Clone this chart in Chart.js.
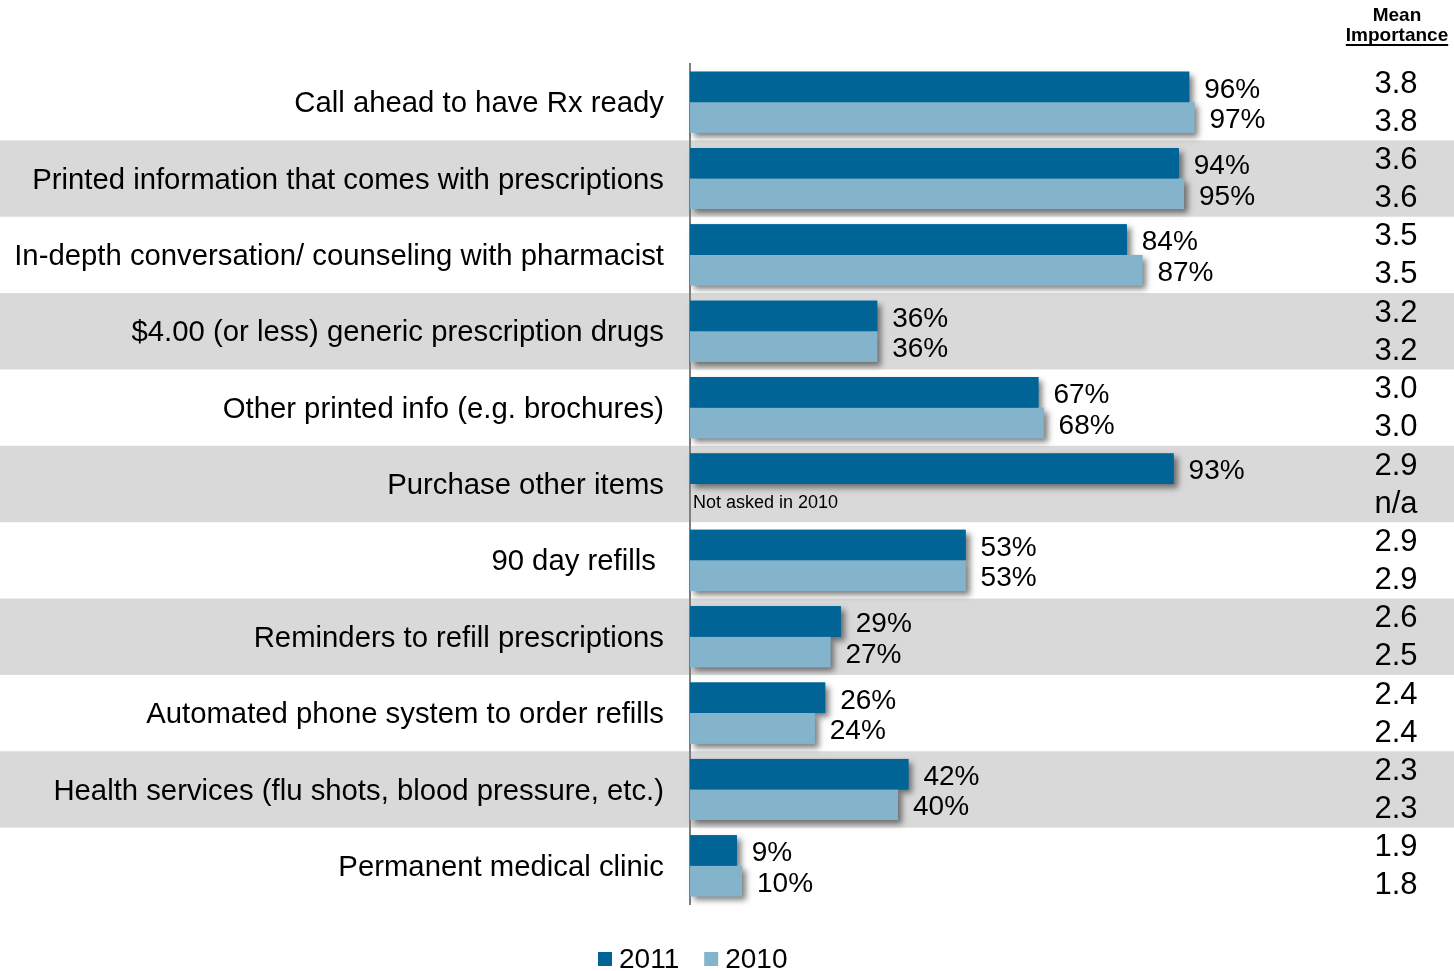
<!DOCTYPE html>
<html>
<head>
<meta charset="utf-8">
<script src="https://cdn.jsdelivr.net/npm/chart.js@4"></script>
<style>
  html, body { margin: 0; padding: 0; background: #ffffff; }
  #wrap { position: relative; width: 1454px; height: 971px; }
</style>
</head>
<body>
<div id="wrap"><canvas id="chart"></canvas></div>
<script>
// Services and features, ranked by mean importance
const categories = [
  'Call ahead to have Rx ready',
  'Printed information that comes with prescriptions',
  'In-depth conversation/ counseling with pharmacist',
  '$4.00 (or less) generic prescription drugs',
  'Other printed info (e.g. brochures)',
  'Purchase other items',
  '90 day refills ',
  'Reminders to refill prescriptions',
  'Automated phone system to order refills',
  'Health services (flu shots, blood pressure, etc.)',
  'Permanent medical clinic'
];
const seriesLabels = ['2011', '2010'];
const values2011 = [96, 94, 84, 36, 67, 93, 53, 29, 26, 42, 9];
const values2010 = [97, 95, 87, 36, 68, null, 53, 27, 24, 40, 10];
const mean2011 = ['3.8', '3.6', '3.5', '3.2', '3.0', '2.9', '2.9', '2.6', '2.4', '2.3', '1.9'];
const mean2010 = ['3.8', '3.6', '3.5', '3.2', '3.0', 'n/a', '2.9', '2.5', '2.4', '2.3', '1.8'];
const missingNote = 'Not asked in 2010';
const meanTitle = ['Mean', 'Importance'];

const FONT = '"Liberation Sans", Arial, Helvetica, sans-serif';
const DARK = '#006497';
const LIGHT = '#84b3cc';
const BAND = '#d9d9d9';

// alternating grey row bands across the full width
const rowBands = {
  id: 'rowBands',
  beforeDraw(chart) {
    const { ctx, chartArea, scales: { y } } = chart;
    const h = chartArea.height / categories.length;
    ctx.save();
    ctx.fillStyle = BAND;
    categories.forEach((c, i) => {
      if (i % 2 === 1) {
        const yc = y.getPixelForValue(i);
        ctx.fillRect(0, yc - h / 2, chart.width, h);
      }
    });
    ctx.restore();
  }
};

// soft drop shadow painted underneath every bar
const barShadows = {
  id: 'barShadows',
  beforeDatasetsDraw(chart) {
    const ctx = chart.ctx;
    ctx.save();
    ctx.shadowColor = 'rgba(0,0,0,0.5)';
    ctx.shadowBlur = 6;
    ctx.shadowOffsetX = 4;
    ctx.shadowOffsetY = 4;
    chart.data.datasets.forEach((ds, di) => {
      chart.getDatasetMeta(di).data.forEach((bar, i) => {
        if (ds.data[i] == null) return;
        const p = bar.getProps(['x', 'y', 'base', 'height'], true);
        ctx.fillStyle = ds.backgroundColor;
        ctx.fillRect(p.base, p.y - p.height / 2, p.x - p.base, p.height);
      });
    });
    ctx.restore();
  }
};

// percentage labels, mean importance column, header and legend
const annotations = {
  id: 'annotations',
  afterDatasetsDraw(chart) {
    const { ctx, chartArea, scales: { y } } = chart;
    ctx.save();
    ctx.fillStyle = '#000';
    ctx.textBaseline = 'middle';
    chart.data.datasets.forEach((ds, di) => {
      chart.getDatasetMeta(di).data.forEach((bar, i) => {
        const v = ds.data[i];
        const p = bar.getProps(['x', 'y', 'base'], true);
        if (v == null) {
          ctx.font = '18px ' + FONT;
          ctx.textAlign = 'left';
          ctx.fillText(missingNote, p.base + 3, p.y + 4);
        } else {
          ctx.font = '28px ' + FONT;
          ctx.textAlign = 'left';
          ctx.fillText(v + '%', p.x + 15, p.y + 3);
        }
      });
    });

    // mean importance column
    const mx = 1396;
    ctx.font = '31px ' + FONT;
    ctx.textAlign = 'center';
    categories.forEach((c, i) => {
      const yc = y.getPixelForValue(i);
      ctx.fillText(mean2011[i], mx, yc - 18);
      ctx.fillText(mean2010[i], mx, yc + 20);
    });

    // column header
    ctx.font = 'bold 19px ' + FONT;
    ctx.fillText(meanTitle[0], 1397, 16);
    ctx.fillText(meanTitle[1], 1397, 36);
    const w = ctx.measureText(meanTitle[1]).width;
    ctx.fillRect(1397 - w / 2, 44, w, 2);

    // legend
    const colors = [DARK, LIGHT];
    let lx = 598;
    const ly = 959;
    ctx.font = '28px ' + FONT;
    ctx.textAlign = 'left';
    seriesLabels.forEach((lab, k) => {
      ctx.fillStyle = colors[k];
      ctx.fillRect(lx, ly - 7, 14, 14);
      ctx.fillStyle = '#000';
      ctx.fillText(lab, lx + 21, ly + 1);
      lx += 21 + ctx.measureText(lab).width + 25;
    });
    ctx.restore();
  }
};

new Chart(document.getElementById('chart'), {
  type: 'bar',
  data: {
    labels: categories,
    datasets: [
      { label: seriesLabels[0], data: values2011, backgroundColor: DARK },
      { label: seriesLabels[1], data: values2010, backgroundColor: LIGHT }
    ]
  },
  options: {
    indexAxis: 'y',
    responsive: true,
    maintainAspectRatio: false,
    animation: false,
    events: [],
    categoryPercentage: 0.8,
    barPercentage: 1.0,
    layout: { padding: { top: 64, bottom: 67, left: 0, right: 244 } },
    plugins: {
      legend: { display: false },
      tooltip: { enabled: false },
      title: { display: false }
    },
    scales: {
      x: { display: false, min: 0, max: 100 },
      y: {
        grid: { display: false, drawTicks: false },
        border: { display: true, color: '#808080', width: 2 },
        ticks: {
          color: '#000',
          font: { family: FONT, size: 29.3 },
          padding: 26,
          labelOffset: 2,
          crossAlign: 'near'
        },
        afterFit(scale) { scale.width = 690; }
      }
    }
  },
  plugins: [rowBands, barShadows, annotations]
});
</script>
</body>
</html>
